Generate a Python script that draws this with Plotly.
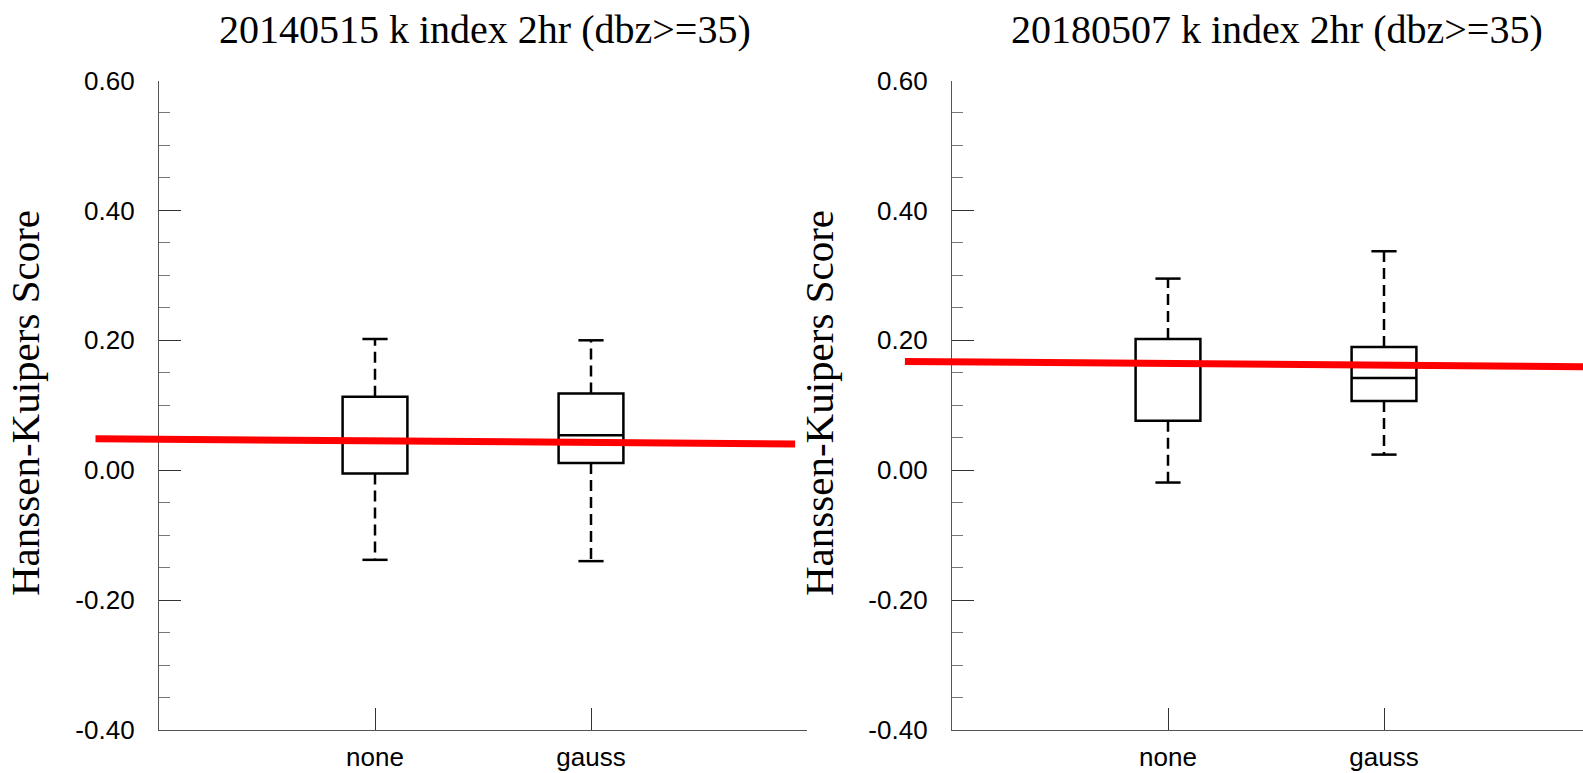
import plotly.graph_objects as go

W, H = 1583, 773

# ---------------- data ----------------
categories = ["none", "gauss"]
cat_pos = [1, 2]

titles = ["20140515 k index 2hr (dbz>=35)", "20180507 k index 2hr (dbz>=35)"]
ytitle = "Hanssen-Kuipers Score"

# panel 1 (20140515)
p1_min = [-0.138, -0.140]
p1_q1 = [-0.005, 0.011]
p1_med = [0.045, 0.054]
p1_q3 = [0.113, 0.118]
p1_max = [0.202, 0.200]
p1_line_x = [-0.294, 2.945]
p1_line_y = [0.0485, 0.0403]

# panel 2 (20180507)
p2_min = [-0.019, 0.024]
p2_q1 = [0.076, 0.1065]
p2_med = [0.163, 0.142]
p2_q3 = [0.202, 0.1895]
p2_max = [0.295, 0.337]
p2_line_x = [-0.218, 3.0]
p2_line_y = [0.1674, 0.1590]

ytick_vals = [-0.4, -0.2, 0.0, 0.2, 0.4, 0.6]
ytick_text = ["-0.40", "-0.20", "0.00", "0.20", "0.40", "0.60"]

# ---------------- layout geometry ----------------
px_unit = 216.0
p1_x0, p1_x1 = 159, 807
p2_x0 = 952
y_top_px, y_bot_px = 80.5, 730
ydom = [(H - y_bot_px) / H, (H - y_top_px) / H]

fig = go.Figure()

tickfont = dict(family="Liberation Sans, Arial, sans-serif", size=26, color="black")
axcol = "#555555"


def add_panel(k, mins, q1s, meds, q3s, maxs, lx, ly, xdom, xrange, rdom, rrange):
    xa = "x" if k == 1 else f"x{k}"
    ya = "y" if k == 1 else f"y{k}"
    fig.add_trace(go.Box(
        x=cat_pos, q1=q1s, median=meds, q3=q3s, lowerfence=q1s, upperfence=q3s,
        width=0.3, whiskerwidth=0, fillcolor="rgba(255,255,255,0)",
        line=dict(color="black", width=2.5), boxpoints=False,
        xaxis=xa, yaxis=ya, showlegend=False, hoverinfo="skip"))
    wx, wy = [], []
    for p, a, b, c, d in zip(cat_pos, q3s, maxs, q1s, mins):
        wx += [p, p, None, p, p, None]
        wy += [a, b, None, c, d, None]
    fig.add_trace(go.Scatter(
        x=wx, y=wy, mode="lines", line=dict(color="black", width=2.5, dash="11px,6px"),
        xaxis=xa, yaxis=ya, showlegend=False, hoverinfo="skip"))
    fig.add_trace(go.Scatter(
        x=cat_pos + cat_pos, y=maxs + mins, mode="markers",
        marker=dict(symbol="line-ew", size=18, line=dict(color="black", width=2.5)),
        xaxis=xa, yaxis=ya, showlegend=False, hoverinfo="skip"))
    # red reference line on an overlay subplot that extends left of the axis
    rk = k + 2
    fig.add_trace(go.Scatter(
        x=lx, y=ly, mode="lines", line=dict(color="#ff0000", width=7),
        xaxis=f"x{rk}", yaxis=f"y{rk}", showlegend=False, hoverinfo="skip"))

    tv = [0, 1, 2, 3]
    tt = ["", "none", "gauss", ""]
    fig.layout[f"xaxis{'' if k == 1 else k}"] = dict(
        domain=xdom, range=xrange, anchor=ya, showline=True, linecolor=axcol, linewidth=1.2,
        ticks="inside", ticklen=22, tickwidth=1, tickcolor="#333333", automargin=False,
        tickvals=tv, ticktext=tt, tickfont=tickfont, showgrid=False, zeroline=False,
        ticklabelstandoff=4)
    fig.layout[f"yaxis{'' if k == 1 else k}"] = dict(
        domain=ydom, range=[-0.4, 0.6], anchor=xa, showline=True, linecolor=axcol, linewidth=1.2,
        ticks="inside", ticklen=22, tickwidth=1, tickcolor="#333333", automargin=False,
        tickvals=ytick_vals, ticktext=ytick_text, tickfont=tickfont,
        showgrid=False, zeroline=False, ticklabelstandoff=18,
        minor=dict(ticks="inside", ticklen=11, dtick=0.05, tick0=0, tickcolor="#777777",
                   tickwidth=1, showgrid=False))
    fig.layout[f"xaxis{rk}"] = dict(domain=rdom, range=rrange, anchor=f"y{rk}",
                                    visible=False, automargin=False)
    fig.layout[f"yaxis{rk}"] = dict(domain=ydom, range=[-0.4, 0.6], anchor=f"x{rk}",
                                    visible=False, automargin=False)


add_panel(1, p1_min, p1_q1, p1_med, p1_q3, p1_max, p1_line_x, p1_line_y,
          [p1_x0 / W, p1_x1 / W], [0, 3],
          [(p1_x0 - 0.3 * px_unit) / W, p1_x1 / W], [-0.3, 3])
r2 = (W - p2_x0) / px_unit
add_panel(2, p2_min, p2_q1, p2_med, p2_q3, p2_max, p2_line_x, p2_line_y,
          [p2_x0 / W, 1.0], [0, r2],
          [(p2_x0 - 0.3 * px_unit) / W, 1.0], [-0.3, r2])

serif = "Liberation Serif, Times New Roman, serif"
ann = []
for cx, t in zip([485, 1277], titles):
    ann.append(dict(text=t, x=cx / W, y=1 - 30 / H, xref="paper", yref="paper",
                    xanchor="center", yanchor="middle", showarrow=False,
                    font=dict(family=serif, size=40, color="black")))
for cx in [25, 819]:
    ann.append(dict(text=ytitle, x=cx / W, y=1 - 403 / H, xref="paper", yref="paper",
                    xanchor="center", yanchor="middle", showarrow=False, textangle=-90,
                    font=dict(family=serif, size=41, color="black")))

fig.update_layout(
    template="none",
    width=W, height=H, margin=dict(l=0, r=0, t=0, b=0, pad=0, autoexpand=False),
    paper_bgcolor="white", plot_bgcolor="rgba(0,0,0,0)", annotations=ann, showlegend=False)

fig.write_html("out.html", config={"displayModeBar": False, "staticPlot": True},
               post_script="document.body.style.margin='0';document.body.style.overflow='hidden';")
